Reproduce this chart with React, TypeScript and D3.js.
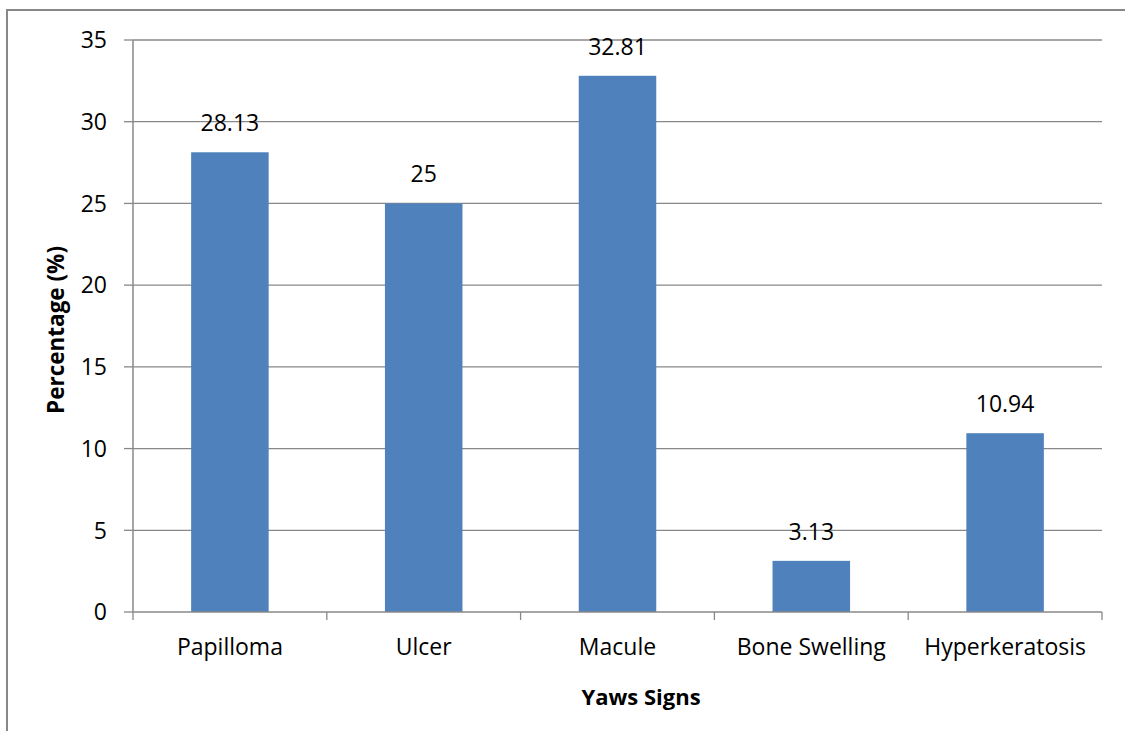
import React from "react";
import * as d3 from "d3";

const categories = ["Papilloma", "Ulcer", "Macule", "Bone Swelling", "Hyperkeratosis"];
const values = [28.13, 25, 32.81, 3.13, 10.94];
const valueLabels = ["28.13", "25", "32.81", "3.13", "10.94"];
const yTicks = [0, 5, 10, 15, 20, 25, 30, 35];

const W = 1125;
const H = 731;
const left = 133;
const right = 1102;
const top = 40;
const bottom = 612;
const FONT = "'Open Sans', sans-serif";
const GRAY = "#888888";
const FS = 23;

export default function App() {
  const x = d3.scaleBand<string>().domain(categories).range([left, right]).paddingInner(0.6).paddingOuter(0.3);
  const y = d3.scaleLinear().domain([0, 35]).range([bottom, top]);
  const step = x.step();
  const boundaries = d3.range(categories.length + 1).map((i) => left + i * step);

  return (
    <svg width={W} height={H} style={{ position: "absolute", left: 0, top: 0, background: "#fff" }} fontFamily={FONT}>
      <rect x={0} y={0} width={W} height={H} fill="#fff" />
      <rect x={7} y={10} width={W + 20} height={H + 20} fill="none" stroke={GRAY} strokeWidth={2} />
      {yTicks.map((t) => (
        <g key={t}>
          {t > 0 && <line x1={left} x2={right} y1={y(t)} y2={y(t)} stroke={GRAY} strokeWidth={1.3} />}
          <line x1={left - 9} x2={left} y1={y(t)} y2={y(t)} stroke={GRAY} strokeWidth={1.3} />
          <text x={107} y={y(t)} dy="0.36em" textAnchor="end" fontSize={FS} fill="#000">
            {t}
          </text>
        </g>
      ))}
      {categories.map((c, i) => (
        <g key={c}>
          <rect x={x(c)} y={y(values[i])} width={x.bandwidth()} height={bottom - y(values[i])} fill="#4F81BD" />
          <text x={(x(c) as number) + x.bandwidth() / 2} y={y(values[i]) - 21} textAnchor="middle" fontSize={FS} fill="#000">
            {valueLabels[i]}
          </text>
          <text x={(x(c) as number) + x.bandwidth() / 2} y={655} textAnchor="middle" fontSize={FS} fill="#000">
            {c}
          </text>
        </g>
      ))}
      <line x1={left} x2={left} y1={top} y2={bottom} stroke={GRAY} strokeWidth={1.5} />
      <line x1={left} x2={right} y1={bottom} y2={bottom} stroke={GRAY} strokeWidth={1.5} />
      {boundaries.map((b, i) => (
        <line key={i} x1={b} x2={b} y1={bottom} y2={bottom + 8} stroke={GRAY} strokeWidth={1.3} />
      ))}
      <text x={641} y={705} textAnchor="middle" fontSize={22} fontWeight="bold" fill="#000">
        Yaws Signs
      </text>
      <text transform={`translate(64, 330) rotate(-90)`} textAnchor="middle" fontSize={22.5} fontWeight="bold" fill="#000">
        Percentage (%)
      </text>
    </svg>
  );
}
